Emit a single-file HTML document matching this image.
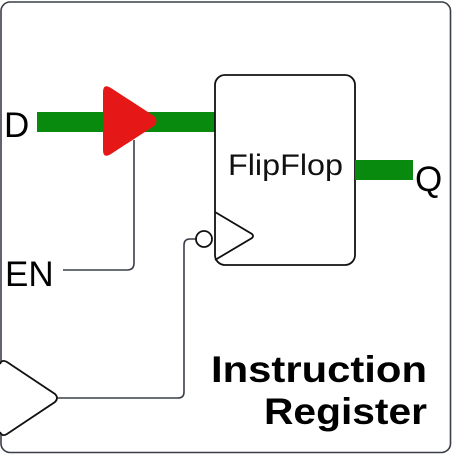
<!DOCTYPE html>
<html><head><meta charset="utf-8"><style>
html,body{margin:0;padding:0;background:#fff;}
svg{display:block;}
</style></head><body>
<svg width="452" height="454" viewBox="0 0 452 454" xmlns="http://www.w3.org/2000/svg">
<rect x="1" y="2" width="449.5" height="450.5" rx="9" fill="#fff" stroke="#3a3f47" stroke-width="1.6"/>
<rect x="37" y="112" width="178" height="20" fill="#088a0e"/>
<path d="M134 140 V263 Q134 270 127 270 H63" fill="none" stroke="#3a3f47" stroke-width="1.6"/>
<path d="M103 92 Q103 83 111 88 L154 116 Q159 121 154 126 L111 154 Q103 159 103 150 Z" fill="#e51717"/>
<path d="M196 239 H190 Q184 239 184 245 V392 Q184 398 178 398 H58" fill="none" stroke="#3a3f47" stroke-width="1.6"/>
<rect x="215" y="75" width="140" height="190" rx="10" fill="#fff" stroke="#111" stroke-width="1.8"/>
<path d="M215 212 L252 234 Q254 236 252 238 L215 260" fill="none" stroke="#111" stroke-width="1.8"/>
<circle cx="204" cy="239" r="8" fill="#fff" stroke="#111" stroke-width="1.8"/>
<text x="228" y="175" font-family="Liberation Sans, sans-serif" font-size="30" textLength="115" lengthAdjust="spacingAndGlyphs" fill="#111">FlipFlop</text>
<rect x="355" y="160" width="58" height="20" fill="#088a0e"/>
<path d="M0 364 Q2 359 7 362 L55 394 Q59 398 55 402 L7 434 Q2 437 0 432" fill="#fff" stroke="#111" stroke-width="1.8"/>
<text x="4" y="137" font-family="Liberation Sans, sans-serif" font-size="35" fill="#000">D</text>
<text x="5" y="286" font-family="Liberation Sans, sans-serif" font-size="35" fill="#000">EN</text>
<text x="415" y="191" font-family="Liberation Sans, sans-serif" font-size="35" fill="#000">Q</text>
<text x="427" y="382" font-family="Liberation Sans, sans-serif" font-weight="bold" font-size="37" text-anchor="end" textLength="216" lengthAdjust="spacingAndGlyphs" fill="#000">Instruction</text>
<text x="427" y="424" font-family="Liberation Sans, sans-serif" font-weight="bold" font-size="37" text-anchor="end" textLength="163" lengthAdjust="spacingAndGlyphs" fill="#000">Register</text>
</svg>
</body></html>
